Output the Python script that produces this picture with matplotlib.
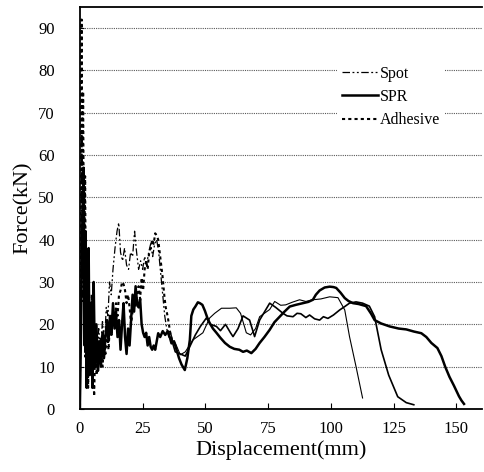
import matplotlib
matplotlib.use('Agg')
import matplotlib.pyplot as plt

plt.rcParams['font.family'] = ['Liberation Serif', 'DejaVu Serif']

# ---- data (Displacement mm, Force kN) ----
spot_x = [0, 0.4, 0.8, 1.2, 1.6, 2.0, 2.4, 2.8, 3.3, 3.8, 4.5, 5.2, 6.0, 6.8, 7.5, 8.2,
          9.0, 9.8, 10.5, 11.2, 11.8, 12.5, 13.2, 14.0, 14.8, 15.5, 16.2, 17.0, 17.8,
          18.6, 19.4, 20.2, 21.0, 21.8, 22.6, 23.4, 24.2, 25.0, 25.8, 26.6, 27.4, 28.2,
          29.0, 29.8, 30.6, 31.4, 32.2, 33.0, 33.8, 34.6, 35.4, 36.2, 37.0, 38.0, 40.0,
          42.0, 45.0, 49.0, 51.7, 53.7, 56.4, 59.7, 62.3, 64.0, 66.3, 68.0, 70.0, 71.6,
          75.6, 77.6, 80.0, 82.0, 84.5, 87.5, 90.0, 92.8, 96.0, 99.5, 102.8, 105.5,
          107.4, 110.0, 112.6]
spot_y = [0, 30, 65, 25, 45, 12, 30, 8, 22, 10, 20, 9, 17, 11, 19, 13,
          21, 15, 24, 22, 30, 27, 33, 38, 42, 44, 37, 35, 38,
          34, 33, 37, 36, 42, 37, 33, 35, 33, 36, 34, 37, 39,
          36, 39, 40, 37, 32, 27, 22, 19, 17, 18, 16, 15.6, 12.8,
          13.5, 16.3, 18, 21.5, 22.6, 23.8, 23.8, 23.9, 22.6, 18, 17.5, 19, 21.8,
          23.5, 25.4, 24.5, 24.6, 25.2, 25.8, 25.4, 25.8, 26.0, 26.5, 26.3, 23.4,
          17.1, 10, 2.6]

spr_x = [0, 0.5, 1.0, 1.5, 1.9, 2.3, 2.7, 3.1, 3.5, 3.9, 4.5, 5.0, 5.5, 6.0, 6.6, 7.2,
         7.8, 8.4, 9.0, 9.6, 10.2, 10.8, 11.4, 12.0, 12.6, 13.2, 13.8, 14.4, 15.0, 15.6,
         16.2, 16.8, 17.4, 18.0, 18.6, 19.2, 19.8, 20.4, 21.0, 21.6, 22.2, 22.8, 23.4,
         24.0, 24.6, 25.2, 25.8, 26.4, 27.0, 27.6, 28.2, 28.8, 29.4, 30.0, 30.6, 31.2,
         32.0, 33.0, 34.0, 35.0, 35.8, 36.5, 37.5, 38.5, 39.5, 40.5, 41.8, 42.8, 43.8,
         44.4, 45.2, 46.0, 47.0, 47.8, 48.8, 49.8, 50.8, 51.7, 53.0, 54.4, 56.0, 57.8,
         59.7, 61.5, 63.5, 65.0, 66.5, 68.3, 70.0, 71.6, 73.5, 75.6, 77.5, 79.6, 81.5,
         83.6, 86.0, 88.9, 91.0, 92.8, 94.0, 95.5, 97.5, 99.5, 101.0, 102.1, 103.8,
         105.5, 107.0, 108.8, 111.0, 114.0, 116.0, 117.4, 120.0, 123.4, 127.0, 130.0,
         133.0, 136.0, 138.0, 140.0, 142.4, 144.0, 145.5, 147.2, 149.0, 151.0, 152.0,
         153.0]
spr_y = [0, 20, 45, 57, 15, 42, 5, 30, 38, 8, 25, 5, 30, 10, 20, 9,
         16, 10, 18, 12, 17, 21, 16, 22, 18, 25, 19, 23, 17, 21,
         14, 20, 25, 17, 13, 19, 15, 21, 27, 23, 29, 25, 24,
         26, 20, 18, 17, 18, 15, 17, 14.7, 14, 15, 14, 16, 17.9,
         17, 18.4, 17.5, 18.4, 17, 15.5, 16, 14, 12, 10.5, 9.2, 12, 16.3,
         22, 23.5, 24.2, 25.2, 25, 24.6, 23.2, 21.5, 20.3, 19, 18, 16.8, 15.6,
         14.7, 14.2, 14, 13.5, 13.8, 13.2, 14.2, 15.6, 17, 18.7, 20.5, 21.8, 23,
         24.2, 24.6, 25, 25.3, 25.8, 27, 28, 28.7, 28.9, 28.8, 28.6, 27.5,
         26.2, 25.5, 25, 24.8, 24.3, 22.5, 21, 20.2, 19.5, 19, 18.8,
         18.3, 17.9, 17, 15.6, 14.4, 12.5, 10, 7.6, 5.5, 3, 2,
         1.2]

adh_x = [0, 0.3, 0.7, 1.0, 1.3, 1.7, 2.1, 2.5, 2.9, 3.3, 3.7, 4.2, 4.7, 5.2, 5.7, 6.2,
         6.7, 7.2, 7.8, 8.4, 9.0, 9.6, 10.2, 10.8, 11.4, 12.0, 12.6, 13.2, 13.8, 14.4,
         15.0, 15.6, 16.2, 16.8, 17.4, 18.0, 18.6, 19.2, 19.8, 20.4, 21.0, 21.6, 22.2,
         22.8, 23.4, 24.0, 24.6, 25.2, 25.8, 26.4, 27.0, 27.6, 28.2, 28.8, 29.4, 30.0,
         30.6, 31.2, 31.8, 32.4, 33.0, 33.6, 34.2, 35.0, 36.0, 37.0, 38.0, 40.0, 42.0,
         44.0, 46.0, 48.0, 50.4, 52.0, 54.4, 56.0, 58.0, 60.0, 61.0, 63.0, 65.0, 67.6,
         69.6, 71.6, 75.6, 78.0, 80.9, 82.5, 84.9, 86.5, 88.0, 90.0, 91.5, 93.5, 95.5,
         97.0, 98.8, 101.0, 103.5, 105.5, 107.4, 110.0, 112.6, 115.3, 117.4, 120.0,
         123.0, 126.6, 130.0, 133.0]
adh_y = [0, 40, 92, 50, 75, 30, 55, 15, 35, 5, 22, 12, 27, 10, 3, 18,
         8, 16, 11, 17, 10, 15, 13, 19, 14, 20, 17, 23, 20, 25,
         22, 27, 28, 30, 29.5, 28, 25, 27, 24, 20, 23, 26, 24,
         27, 29, 26, 31, 28, 33, 35, 33, 37, 38, 40, 39, 41.5,
         41, 40, 37, 34, 31, 27, 24, 21.8, 18, 15.5, 13.5, 13, 12.5,
         15, 17.5, 19.5, 21.5, 20, 19.5, 18.5, 20, 18, 17.1, 19, 22, 21,
         17.1, 21, 25, 24, 22.6, 22.0, 21.8, 22.6, 22.5, 21.6, 22.2, 21.3, 21,
         21.8, 21.4, 22.2, 23.4, 24.2, 25, 25.3, 25, 24.3, 21.8, 14,
         8, 2.9, 1.5, 1]

fig = plt.figure(figsize=(4.84, 4.72), dpi=100)
ax = fig.add_axes([0.165, 0.1335, 0.83, 0.852])

# 前段用虚线样式，后段数据密集看起来是实线
k1 = 51   # spot: x = 35.4
k2 = 66   # adhesive: x = 38
ax.plot(spot_x[:k1], spot_y[:k1], color='black', lw=0.9,
        linestyle=(0, (6, 2, 1.5, 2, 1.5, 2)), label='Spot')
ax.plot(spot_x[k1 - 1:], spot_y[k1 - 1:], color='black', lw=0.8)
ax.plot(spr_x, spr_y, color='black', lw=1.8, label='SPR')
ax.plot(adh_x[:k2], adh_y[:k2], color='black', lw=1.5, linestyle=(0, (1.5, 1.5)),
        label='Adhesive')
ax.plot(adh_x[k2 - 1:], adh_y[k2 - 1:], color='black', lw=1.2)

ax.set_xlim(0, 160)
ax.set_ylim(0, 95)
ax.set_xticks([0, 25, 50, 75, 100, 125, 150])
ax.set_yticks(range(0, 100, 10))
ax.yaxis.grid(True, linestyle=(0, (1, 1)), color='0.35', lw=0.8)
ax.set_axisbelow(True)

ax.spines['right'].set_visible(False)
for s in ['left', 'bottom', 'top']:
    ax.spines[s].set_linewidth(1.3)
ax.tick_params(axis='x', direction='in', length=4, labelsize=12, pad=9)
ax.tick_params(axis='y', direction='in', length=3, labelsize=12, pad=18)

ax.set_xlabel('Displacement(mm)', fontsize=16, labelpad=2)
ax.set_ylabel('Force(kN)', fontsize=16, labelpad=4)

leg = ax.legend(loc='upper left', bbox_to_anchor=(0.62, 0.885), fontsize=11.5,
                handlelength=2.3, handletextpad=0.1, labelspacing=0.45,
                borderpad=0.3, frameon=True, fancybox=False)
leg.get_frame().set_edgecolor('none')
leg.get_frame().set_facecolor('white')
leg.get_frame().set_alpha(1)

fig.savefig('out.png', dpi=100)
